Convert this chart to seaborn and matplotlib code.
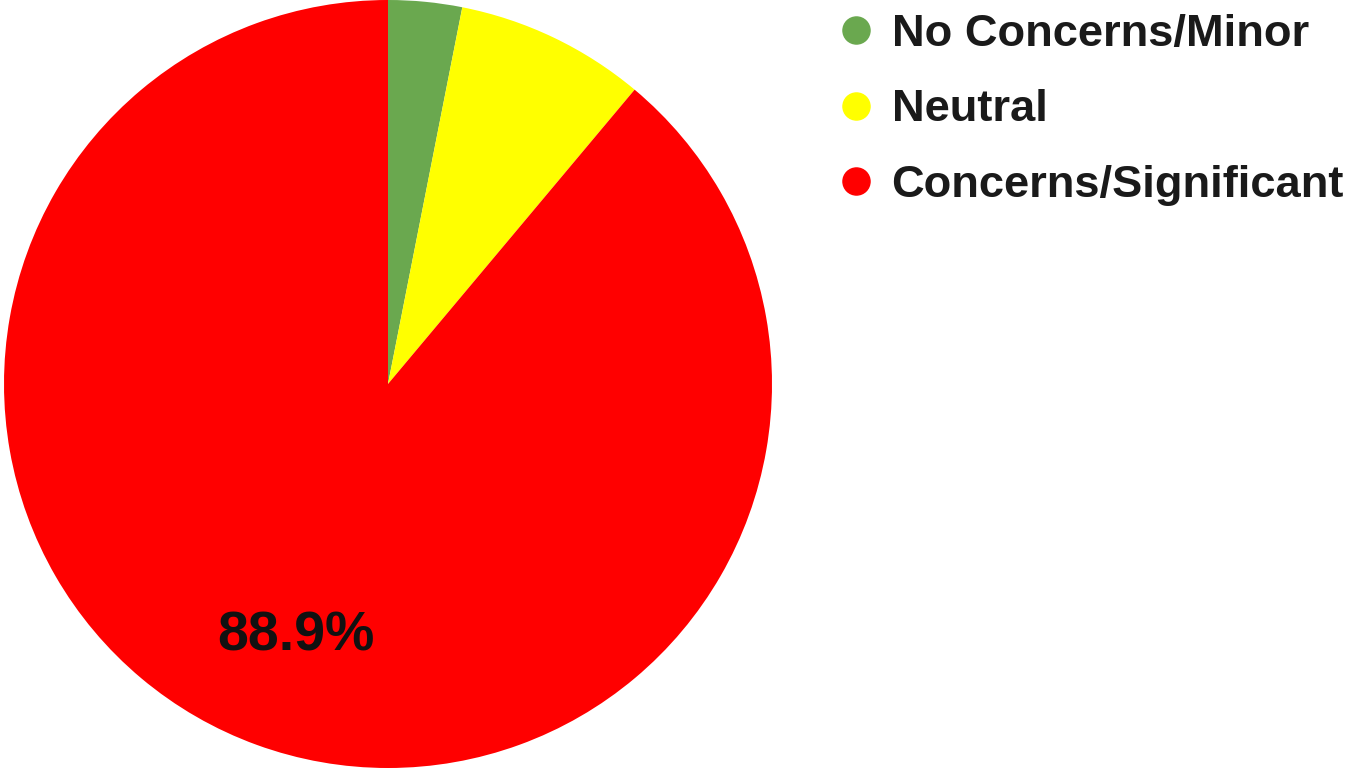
import matplotlib
matplotlib.use("Agg")
import matplotlib.pyplot as plt
from matplotlib.lines import Line2D
import seaborn as sns

categories = ["No Concerns/Minor", "Neutral", "Concerns/Significant"]
values = [3.1, 8.0, 88.9]
colors = ["#6AA84F", "#FFFF00", "#FF0000"]

sns.set_theme(style="white")
plt.rcParams["font.family"] = ["Liberation Sans", "DejaVu Sans"]

fig = plt.figure(figsize=(13.49, 7.68), dpi=100)
ax = fig.add_axes([4 / 1349, 0, 768 / 1349, 1])

def fmt(p):
    return f"{p:.1f}%" if p > 50 else ""

wedges, texts, autotexts = ax.pie(
    values, colors=colors, startangle=90, counterclock=False,
    autopct=fmt, pctdistance=0.7, radius=1.0,
    wedgeprops=dict(linewidth=0),
    textprops=dict(fontsize=40, fontweight="bold", color="#111111"),
)
ax.set_xlim(-1, 1)
ax.set_ylim(-1, 1)
ax.set_aspect("equal")

handles = [Line2D([0], [0], marker="o", linestyle="none", markersize=19.5,
                  markerfacecolor=c, markeredgecolor=c) for c in colors]
leg = fig.legend(handles, categories, loc="upper left",
                 bbox_to_anchor=(834 / 1349, 1 - 14 / 768), frameon=False,
                 prop=dict(size=32.6, weight="bold"), labelspacing=0.76,
                 handletextpad=0.29, handlelength=0.98,
                 borderaxespad=0, borderpad=0)
for t in leg.get_texts():
    t.set_color("#1a1a1a")

fig.savefig("out.png", dpi=100)
